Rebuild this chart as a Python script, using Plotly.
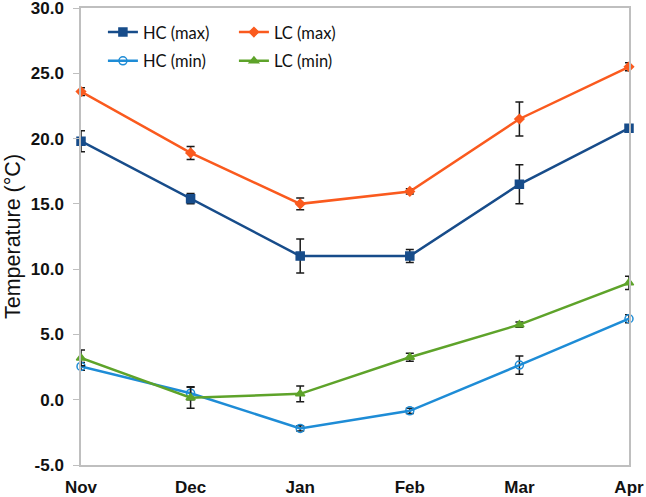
import plotly.graph_objects as go

months = ["Nov", "Dec", "Jan", "Feb", "Mar", "Apr"]

hc_max = [19.8, 15.4, 11.0, 11.0, 16.5, 20.8]
hc_max_err = [0.8, 0.4, 1.3, 0.5, 1.5, 0.2]
lc_max = [23.6, 18.9, 15.0, 15.95, 21.5, 25.5]
lc_max_err = [0.3, 0.5, 0.45, 0.2, 1.3, 0.3]
hc_min = [2.55, 0.5, -2.2, -0.85, 2.65, 6.2]
hc_min_err = [0.3, 0.5, 0.2, 0.2, 0.7, 0.3]
lc_min = [3.2, 0.15, 0.45, 3.25, 5.75, 8.95]
lc_min_err = [0.6, 0.8, 0.6, 0.3, 0.2, 0.5]

y_ticks = [-5, 0, 5, 10, 15, 20, 25, 30]
y_tick_labels = ["-5.0", "0.0", "5.0", "10.0", "15.0", "20.0", "25.0", "30.0"]

series = [
    ("HC (max)", hc_max, hc_max_err, "#174C8A", "square", 8, "legend"),
    ("LC (max)", lc_max, lc_max_err, "#FA5A1E", "diamond", 7, "legend"),
    ("HC (min)", hc_min, hc_min_err, "#1E8CD6", "circle-open", 8, "legend2"),
    ("LC (min)", lc_min, lc_min_err, "#5EA32A", "triangle-up", 8, "legend2"),
]

fig = go.Figure()
for name, vals, errs, color, sym, size, leg in series:
    fig.add_trace(go.Scatter(
        x=months, y=vals, name=name, mode="lines+markers",
        line=dict(color=color, width=2.5),
        marker=dict(symbol=sym, size=size, color=color,
                    line=dict(color=color, width=1.5)),
        error_y=dict(type="data", array=errs, visible=True,
                     color="#1a1a1a", thickness=1.5, width=4),
        cliponaxis=False, legend=leg,
    ))

tick_font = dict(family="Liberation Sans, Arial", size=17,
                 color="#111111", weight="bold")
leg_font = dict(family="Lato, Noto Sans", size=16.5, color="#111111")

fig.update_layout(
    width=646, height=497,
    margin=dict(l=81, r=17, t=8, b=32),
    paper_bgcolor="white", plot_bgcolor="white",
    showlegend=True,
    legend=dict(orientation="h", x=0.04, y=0.985, xanchor="left", yanchor="top",
                font=leg_font, entrywidth=86, bgcolor="rgba(0,0,0,0)"),
    legend2=dict(orientation="h", x=0.04, y=0.922, xanchor="left", yanchor="top",
                 font=leg_font, entrywidth=86, bgcolor="rgba(0,0,0,0)"),
    xaxis=dict(
        type="category", range=[0, 5], showgrid=False, automargin=False,
        showline=True, linecolor="#BFBFBF", linewidth=1.5, mirror=True,
        ticks="", tickfont=tick_font, zeroline=False,
        ticklabeloverflow="allow", ticklabelstandoff=6,
    ),
    yaxis=dict(
        range=[-5, 30], tickvals=y_ticks, ticktext=y_tick_labels, automargin=False,
        showgrid=False, zeroline=False,
        showline=True, linecolor="#BFBFBF", linewidth=1.5, mirror=True,
        ticks="outside", ticklen=6, tickcolor="#BFBFBF", tickwidth=1,
        tickfont=tick_font, ticklabelstandoff=6, ticklabeloverflow="allow",
        title=dict(text="Temperature (°C)", standoff=4,
                   font=dict(family="Liberation Sans, Arial", size=21.5, color="#111111")),
    ),
)

fig.write_html("out.html", config={"displayModeBar": False},
               post_script="document.body.style.margin='0';document.body.style.overflow='hidden';")
